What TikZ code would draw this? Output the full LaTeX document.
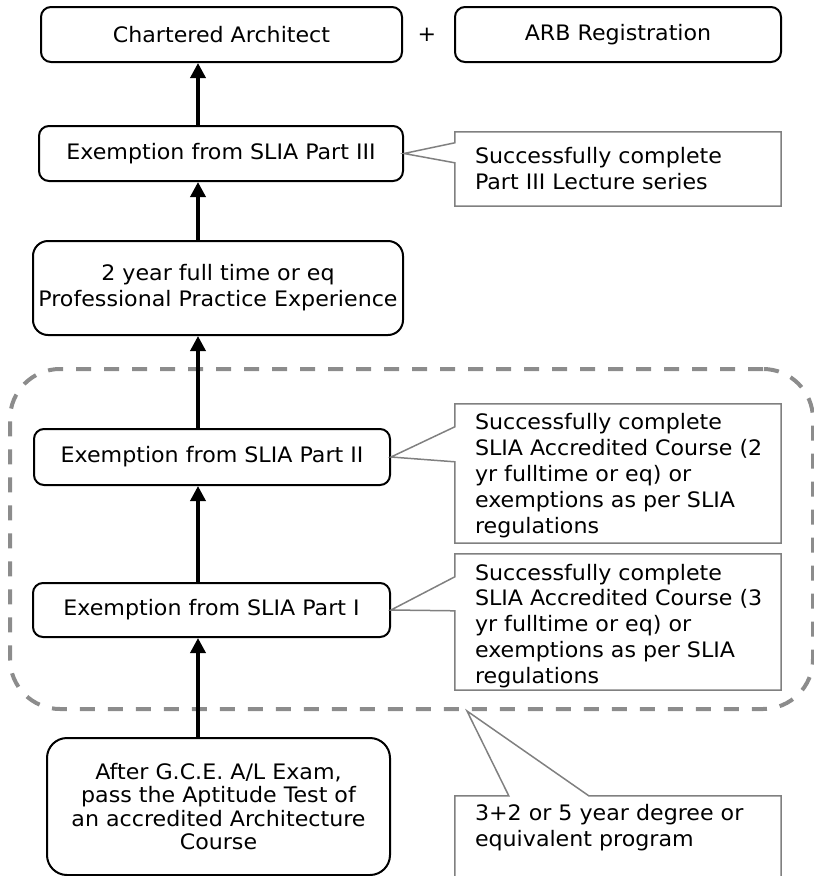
\documentclass[tikz,border=0pt]{standalone}
\usepackage{fontspec}
\setmainfont{DejaVu Sans}[FakeStretch=1.04]
\usepackage{tikz}
\usetikzlibrary{arrows.meta,positioning,calc}
\definecolor{calloutgray}{HTML}{808080}
\definecolor{groupgray}{HTML}{8C8C8C}

\begin{document}
\begin{tikzpicture}[x=1pt,y=-1pt,font=\fontsize{21.3}{25.9}\selectfont,
    stepnode/.style={draw,line width=2pt,rounded corners=10pt,align=center,inner sep=0pt},
    callbox/.style={inner sep=0pt,minimum width=326pt},
    calltext/.style={inner sep=0pt,anchor=west,align=left},
    callline/.style={draw=calloutgray,line width=1.5pt,line join=miter},
    flow/.style={line width=3.5pt,-{Triangle[width=15pt,length=15pt]}}]
  \useasboundingbox (0,0) rectangle (814,876);
  \clip (0,0) rectangle (814,876);
  % dashed group round the two exemptions
  \node[draw=groupgray,line width=4pt,dash pattern=on 15pt off 13pt,rounded corners=50pt,
        minimum width=803pt,minimum height=340pt] (grp) at (411.5,539) {};
  \node[stepnode,minimum width=361pt,minimum height=55pt] (ca) at (221.5,34.5) {Chartered Architect};
  \node[stepnode,minimum width=326pt,minimum height=55pt] (arb) at (618,34.5) {ARB Registration};
  \node (plus) at (427,35) {+};
  \node[stepnode,minimum width=364pt,minimum height=55pt] (p3) at (221,153.5) {Exemption from SLIA Part III};
  \node[stepnode,rounded corners=15pt,minimum width=370pt,minimum height=94pt] (ppe) at (218,288)
    {2 year full time or eq\\Professional Practice Experience};
  \node[stepnode,minimum width=356pt,minimum height=56pt] (p2) at (212,457) {Exemption from SLIA Part II};
  \node[stepnode,minimum width=357pt,minimum height=54pt] (p1) at (211.5,610) {Exemption from SLIA Part I};
  \node[stepnode,rounded corners=20pt,minimum width=343pt,minimum height=137pt,
        font=\fontsize{21.3}{23.5}\selectfont] (apt) at (218.5,806.5)
    {After G.C.E. A/L Exam,\\pass the Aptitude Test of\\an accredited Architecture\\Course};
  % callouts
  \node[callbox,minimum height=74pt] (c3) at (618,169) {};
  \node[callbox,minimum height=139pt] (c2) at (618,473.5) {};
  \node[callbox,minimum height=136pt] (c1) at (618,622) {};
  \node[callbox,minimum height=64pt] (c0) at (618,828) {};
  \node[calltext] (t3) at ($(c3.west)+(20,0)$) {Successfully complete\\Part III Lecture series};
  \node[calltext] (t2) at ($(c2.west)+(20,2)$)
    {Successfully complete\\SLIA Accredited Course (2\\yr fulltime or eq) or\\exemptions as per SLIA\\regulations};
  \node[calltext] (t1) at ($(c1.west)+(20,4)$)
    {Successfully complete\\SLIA Accredited Course (3\\yr fulltime or eq) or\\exemptions as per SLIA\\regulations};
  \node[calltext] (t0) at ($(c0.west)+(20,0)$) {3+2 or 5 year degree or\\equivalent program};
  \foreach \c/\s/\u/\l in {c3/p3/11/31,c2/p2/23/58,c1/p1/23/57}{
    \draw[callline] (\s.east) -- ($(\c.north west)+(0,\u)$) |- (\c.north east) |- (\c.south west)
      -- ($(\c.north west)+(0,\l)$) -- cycle;
  }
  \coordinate (gtip) at ($(grp.south)+(55.5,0)$);
  \draw[callline] ($(c0.north west)+(0,90)$) -- (c0.north west) -- ($(c0.north west)+(54,0)$) -- (gtip)
    -- ($(c0.north west)+(134,0)$) -- (c0.north east) -- ($(c0.north east)+(0,90)$);
  % arrows up the left column
  \coordinate (spine) at (198,0);
  \foreach \a/\b in {apt/p1,p1/p2,p2/ppe,ppe/p3,p3/ca}
    \draw[flow] (\a.north -| spine) -- (\b.south -| spine);
\end{tikzpicture}
\end{document}
